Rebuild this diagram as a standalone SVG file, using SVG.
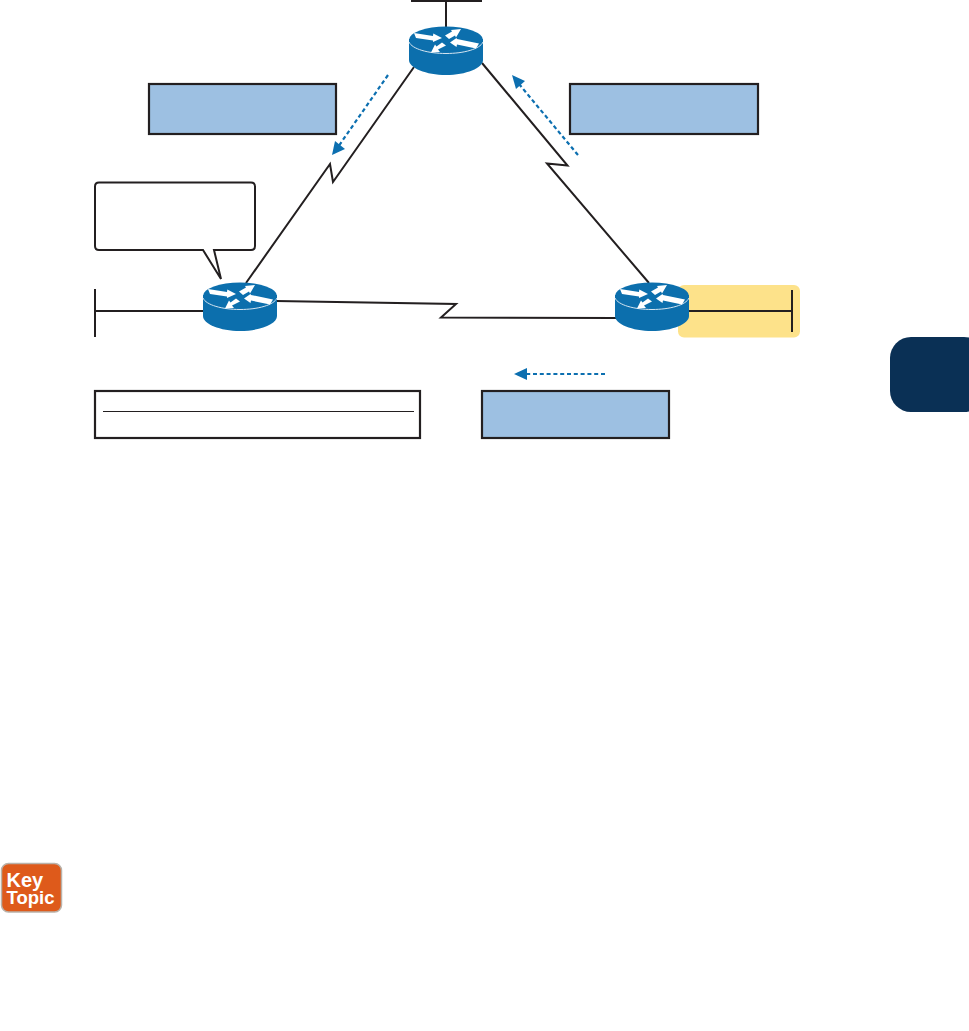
<svg xmlns="http://www.w3.org/2000/svg" width="969" height="1031" viewBox="0 0 969 1031">
<style>
.wire{fill:none;stroke:#231f20;stroke-width:2}
.box{fill:#9dc0e2;stroke:#231f20;stroke-width:2.2}
.flow{fill:none;stroke:#0c6fb0;stroke-width:2.2;stroke-dasharray:4 2.8}
.tip{fill:#0c6fb0}
.ra{fill:#fff}
</style>
<defs>
<g id="router">
<path d="M-37-12V9C-37 17-20 24 0 24S37 17 37 9V-12Z" fill="#0c6fad"/>
<ellipse cx="0" cy="-11" rx="37" ry="13.5" fill="#0c6fad"/>
<path d="M-37-9C-34-2-18 2.500 0 2.500S34-2 37-9" fill="none" stroke="#d5e5f1" stroke-width="1"/>
<path class="ra" d="M-32-18L-13-15L-12.700-17.500L-4-13L-13-9L-13-10.500L-30-13Z"/>
<path class="ra" d="M-1-15.500L6-19.500L5-21L15-22L10-13.500L9-15.500L3-12Z"/>
<path class="ra" d="M33-7.500L11-12L10.500-13L4-8.500L10.500-4L11-6.500L30-2.500Z"/>
<path class="ra" d="M-4-8.500L-9.500-4.500L-11-6.500L-15 1.500L-6 1L-8-1.500L0-5.500Z"/>
</g>
</defs>
<rect id="tab" x="890" y="337" width="95" height="75" rx="21" fill="#0a3055"/>
<rect id="highlight" x="678" y="285" width="122" height="52.500" rx="6" fill="#fde28a"/>
<g id="connectors">
<path class="wire" d="M414 67L333 182L330 164L246 283"/>
<path class="wire" d="M482 63L567.500 165.500L547 163.500L649 283"/>
<path class="wire" d="M276 301L456 304L441 317.500L616 318"/>
<path class="wire" d="M95 311H204M95 289V337"/>
<path class="wire" d="M688 311H792M792 290V332"/>
<path class="wire" d="M446 0V27M411 1H482"/>
<path class="flow" d="M388 75L338 147"/>
<path class="tip" d="M332 155L335 141L345 149Z"/>
<path class="flow" d="M578 155L519 84"/>
<path class="tip" d="M512 75L525 81L516 89Z"/>
<path class="flow" d="M605 374H524"/>
<path class="tip" d="M514 374L527 368V380Z"/>
</g>
<g id="note-a"><rect class="box" x="149" y="84" width="187" height="50"/></g>
<g id="note-b"><rect class="box" x="570" y="84" width="188" height="50"/></g>
<g id="note-c"><rect class="box" x="482" y="391" width="187" height="47"/></g>
<g id="table"><rect x="95" y="391" width="325" height="47" fill="#fff" stroke="#231f20" stroke-width="2.200"/><path d="M103 411.500H414" stroke="#231f20" stroke-width="1"/></g>
<g id="callout"><path d="M99 182.500H251Q255 182.500 255 186.500V246Q255 250 251 250H214L221 279L203 250H99Q95 250 95 246V186.500Q95 182.500 99 182.500Z" fill="#fff" stroke="#231f20" stroke-width="2"/></g>
<g id="router-left"><use href="#router" x="240" y="307"/></g>
<g id="router-top"><use href="#router" x="446" y="51"/></g>
<g id="router-right"><use href="#router" x="652" y="307"/></g>
<g id="key-topic">
<rect x="1.500" y="863.500" width="60" height="48.500" rx="7" fill="#de5a1b" stroke="#b9b2aa" stroke-width="1.500"/>
<text font-family="Liberation Sans, Arial, sans-serif" font-weight="700" fill="#fff"><tspan x="6.500" y="887" font-size="20">Key</tspan><tspan x="6.500" y="904" font-size="18.500">Topic</tspan></text>
</g>
</svg>
